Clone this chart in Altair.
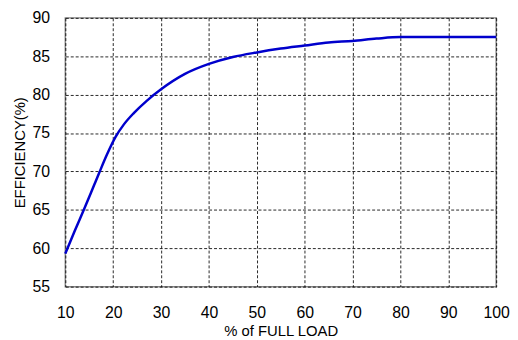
import altair as alt
import pandas as pd

load = [10, 12, 14, 16, 17, 18.7, 20.5, 22.2, 24.3, 27, 30, 35, 40, 45, 50, 55, 60, 65, 70, 75, 80, 90, 100]
eff = [59.3, 62.3, 65.2, 68.2, 69.7, 72.2, 74.5, 76.1, 77.6, 79.2, 80.7, 82.7, 84.0, 84.9, 85.5, 86.0, 86.4, 86.8, 87.0, 87.3, 87.5, 87.5, 87.5]
x_ticks = [10, 20, 30, 40, 50, 60, 70, 80, 90, 100]
y_ticks = [55, 60, 65, 70, 75, 80, 85, 90]

df = pd.DataFrame({"load": load, "eff": eff})

chart = alt.Chart(df).mark_line(color="#0000CC", strokeWidth=2.5, interpolate="monotone").encode(
    x=alt.X("load:Q", scale=alt.Scale(domain=[10, 100], nice=False, zero=False),
            axis=alt.Axis(values=x_ticks, title="% of FULL LOAD", labelPadding=18, titlePadding=3,
                          labelFlush=False)),
    y=alt.Y("eff:Q", scale=alt.Scale(domain=[55, 90], nice=False, zero=False),
            axis=alt.Axis(values=y_ticks, title="EFFICIENCY(%)", labelPadding=16, titlePadding=4,
                          labelFlush=False)),
).properties(
    width=436, height=272, padding={"left": 5, "top": 0, "right": 0, "bottom": 0}
).configure_view(
    stroke="#888888", strokeWidth=1.5
).configure_axis(
    grid=True, gridColor="#000000", gridDash=[3, 2], gridWidth=1, gridOpacity=0.85,
    domain=False, ticks=False,
    labelFont="Liberation Sans", labelFontSize=16, labelColor="#000000",
    titleFont="Liberation Sans", titleFontSize=15, titleFontWeight="normal", titleColor="#000000",
)

chart.save("out.html", embed_options={"renderer": "svg", "actions": False})
